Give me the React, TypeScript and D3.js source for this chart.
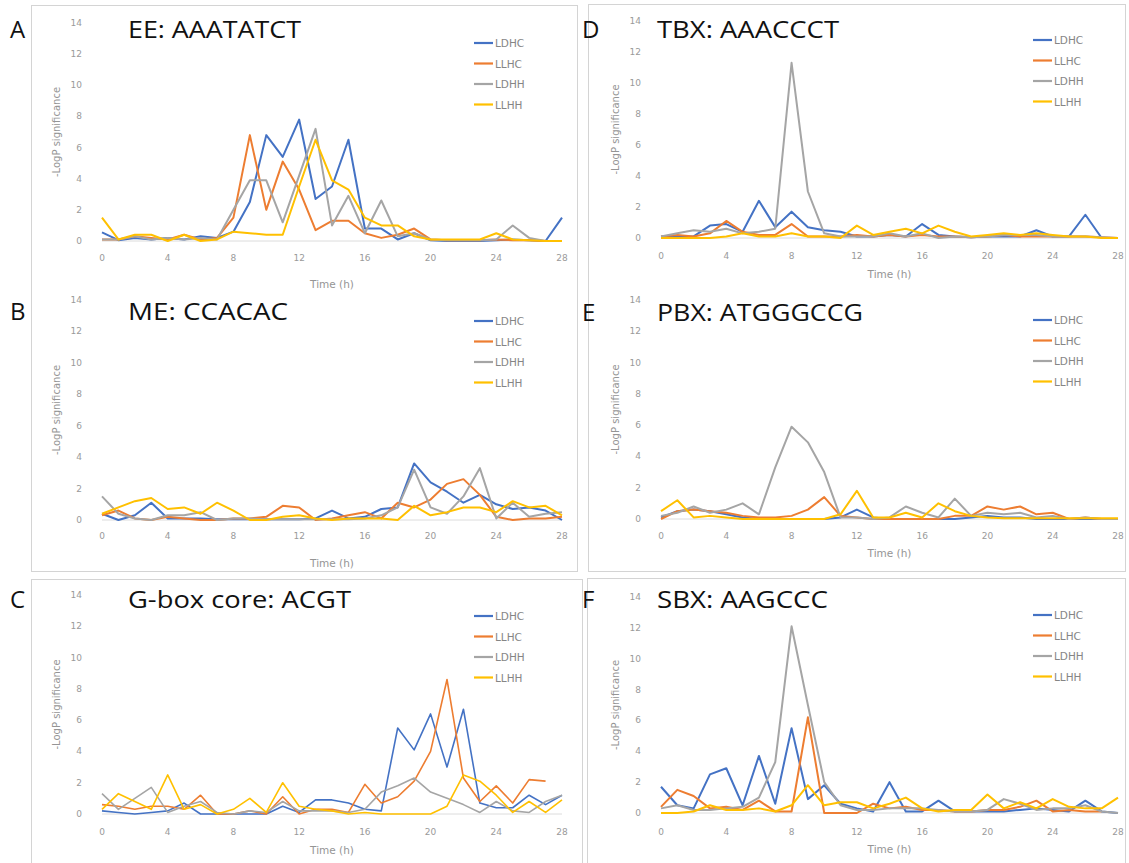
import React from "react";
import * as d3 from "d3";

// time points (h) and shared axis ticks
const hours = [0, 1, 2, 3, 4, 5, 6, 7, 8, 9, 10, 11, 12, 13, 14, 15, 16, 17, 18, 19, 20, 21, 22, 23, 24, 25, 26, 27, 28];
const xTicks = [0, 4, 8, 12, 16, 20, 24, 28];
const yTicks = [0, 2, 4, 6, 8, 10, 12, 14];
const seriesNames = ["LDHC", "LLHC", "LDHH", "LLHH"];
const seriesColors = ["#4472C4", "#ED7D31", "#A5A5A5", "#FFC000"];

type V = number | null;

// A - EE: AAATATCT
const eeLDHC: V[] = [0.55, 0.05, 0.2, 0.1, 0.2, 0.1, 0.3, 0.2, 0.6, 2.5, 6.8, 5.4, 7.8, 2.7, 3.5, 6.5, 0.8, 0.8, 0.1, 0.5, 0.05, 0, 0, 0, 0.05, 0.1, 0.05, 0, 1.5];
const eeLLHC: V[] = [0.1, 0.1, 0.3, 0.2, 0.1, 0.4, 0.1, 0.2, 1.5, 6.8, 2.0, 5.1, 3.3, 0.7, 1.3, 1.3, 0.5, 0.2, 0.4, 0.8, 0.1, 0.05, 0.05, 0.05, 0.1, 0.05, 0.05, 0, 0];
const eeLDHH: V[] = [0.1, 0.1, 0.3, 0.1, 0.2, 0.1, 0.2, 0.1, 2.0, 3.9, 3.9, 1.2, 4.2, 7.2, 1.0, 2.9, 0.5, 2.6, 0.3, 0.5, 0.1, 0.05, 0.05, 0.05, 0.1, 1.0, 0.2, 0, 0];
const eeLLHH: V[] = [1.5, 0.1, 0.4, 0.4, 0.0, 0.4, 0.0, 0.1, 0.6, 0.5, 0.4, 0.4, 3.5, 6.5, 3.9, 3.3, 1.5, 1.0, 1.0, 0.3, 0.1, 0.1, 0.1, 0.1, 0.5, 0.1, 0.05, 0, 0];

// B - ME: CCACAC
const meLDHC: V[] = [0.4, 0.0, 0.3, 1.1, 0.1, 0.1, 0.1, 0.05, 0.05, 0.05, 0.05, 0.05, 0.05, 0.1, 0.6, 0.1, 0.2, 0.7, 0.8, 3.6, 2.4, 1.8, 1.1, 1.6, 1.0, 0.7, 0.8, 0.6, 0.0];
const meLLHC: V[] = [0.3, 0.6, 0.1, 0.0, 0.2, 0.1, 0.0, 0.0, 0.1, 0.1, 0.2, 0.9, 0.8, 0.0, 0.1, 0.3, 0.5, 0.1, 1.1, 0.8, 1.3, 2.3, 2.6, 1.6, 0.2, 0.0, 0.1, 0.1, 0.2];
const meLDHH: V[] = [1.5, 0.4, 0.1, 0.0, 0.3, 0.3, 0.5, 0.0, 0.1, 0.1, 0.05, 0.05, 0.05, 0.05, 0.05, 0.05, 0.1, 0.3, 0.8, 3.2, 0.8, 0.4, 1.5, 3.3, 0.1, 1.1, 0.2, 0.4, 0.5];
const meLLHH: V[] = [0.4, 0.8, 1.2, 1.4, 0.7, 0.8, 0.4, 1.1, 0.6, 0.0, 0.0, 0.2, 0.3, 0.1, 0.0, 0.1, 0.1, 0.1, 0.0, 0.9, 0.3, 0.5, 0.8, 0.8, 0.5, 1.2, 0.8, 0.9, 0.3];

// C - G-box core: ACGT
const gboxLDHC: V[] = [0.2, 0.1, 0.0, 0.1, 0.2, 0.7, 0.0, 0.0, 0.0, 0.0, 0.0, 0.5, 0.1, 0.9, 0.9, 0.7, 0.3, 0.2, 5.5, 4.1, 6.4, 3.0, 6.7, 0.7, 0.4, 0.4, 1.2, 0.6, 1.2];
const gboxLLHC: V[] = [0.6, 0.5, 0.3, 0.5, 0.5, 0.3, 1.2, 0.0, 0.0, 0.2, 0.0, 1.1, 0.0, 0.3, 0.3, 0.1, 1.9, 0.7, 1.1, 2.1, 4.0, 8.6, 2.3, 0.8, 1.8, 0.7, 2.2, 2.1, null];
const gboxLDHH: V[] = [1.3, 0.3, 1.0, 1.7, 0.1, 0.5, 0.8, 0.1, 0.0, 0.2, 0.1, 0.8, 0.2, 0.2, 0.2, 0.1, 0.3, 1.4, 1.8, 2.3, 1.4, 1.0, 0.6, 0.1, 0.8, 0.2, 0.1, 0.8, 1.2];
const gboxLLHH: V[] = [0.3, 1.3, 0.8, 0.3, 2.5, 0.3, 0.6, 0.0, 0.3, 1.0, 0.1, 2.0, 0.5, 0.3, 0.2, 0.0, 0.1, 0.0, 0.0, 0.0, 0.0, 0.5, 2.5, 2.1, 1.2, 0.1, 0.8, 0.1, 0.9];

// D - TBX: AAACCCT
const tbxLDHC: V[] = [0.1, 0.1, 0.1, 0.8, 0.9, 0.4, 2.4, 0.7, 1.7, 0.7, 0.5, 0.4, 0.1, 0.1, 0.2, 0.1, 0.9, 0.2, 0.1, 0.05, 0.1, 0.1, 0.1, 0.5, 0.1, 0.1, 1.5, 0, null];
const tbxLLHC: V[] = [0.1, 0.2, 0.1, 0.3, 1.1, 0.4, 0.2, 0.2, 0.9, 0.1, 0.1, 0.1, 0.2, 0.1, 0.2, 0.1, 0.2, 0.1, 0.1, 0.05, 0.1, 0.2, 0.1, 0.1, 0.1, 0.1, 0.1, 0.05, 0];
const tbxLDHH: V[] = [0.1, 0.3, 0.5, 0.4, 0.6, 0.3, 0.4, 0.6, 11.3, 3.0, 0.3, 0.1, 0.1, 0.1, 0.3, 0.1, 0.3, 0.0, 0.1, 0.05, 0.1, 0.2, 0.2, 0.2, 0.1, 0.1, 0.1, 0.05, 0];
const tbxLLHH: V[] = [0, 0, 0, 0, 0.1, 0.3, 0.1, 0.1, 0.3, 0.1, 0.1, 0, 0.8, 0.2, 0.4, 0.6, 0.3, 0.8, 0.4, 0.1, 0.2, 0.3, 0.2, 0.3, 0.2, 0.1, 0.1, 0, 0];

// E - PBX: ATGGGCCG
const pbxLDHC: V[] = [0.1, 0.5, 0.6, 0.5, 0.3, 0.1, 0, 0, 0, 0, 0, 0.1, 0.6, 0.1, 0, 0, 0, 0, 0, 0.1, 0.2, 0.1, 0.1, 0, 0, 0, 0, 0, 0];
const pbxLLHC: V[] = [0.0, 0.5, 0.6, 0.5, 0.4, 0.2, 0.1, 0.1, 0.2, 0.6, 1.4, 0.2, 0.1, 0.0, 0.0, 0.0, 0.0, 0.0, 0.2, 0.2, 0.8, 0.6, 0.8, 0.3, 0.4, 0.0, 0.1, 0.0, 0.0];
const pbxLDHH: V[] = [0.2, 0.4, 0.8, 0.4, 0.6, 1.0, 0.3, 3.3, 5.9, 4.9, 3.0, 0.1, 0.1, 0.0, 0.1, 0.8, 0.4, 0.1, 1.3, 0.2, 0.4, 0.3, 0.4, 0.1, 0.2, 0.0, 0.1, 0.0, 0.0];
const pbxLLHH: V[] = [0.5, 1.2, 0.1, 0.2, 0.1, 0, 0, 0, 0, 0, 0, 0.3, 1.8, 0.1, 0.1, 0.4, 0.1, 1.0, 0.5, 0.2, 0.1, 0.05, 0.05, 0.05, 0.05, 0.05, 0.05, 0.05, 0.05];

// F - SBX: AAGCCC
const sbxLDHC: V[] = [1.7, 0.5, 0.3, 2.5, 2.9, 0.5, 3.7, 0.6, 5.5, 0.9, 1.8, 0.6, 0.3, 0.1, 2.0, 0.1, 0.1, 0.8, 0.1, 0.1, 0.1, 0.1, 0.2, 0.3, 0.2, 0.1, 0.8, 0.1, 0.0];
const sbxLLHC: V[] = [0.4, 1.5, 1.1, 0.3, 0.4, 0.2, 0.8, 0.1, 0.1, 6.2, 0.0, 0.0, 0.0, 0.6, 0.3, 0.4, 0.2, 0.2, 0.1, 0.1, 0.2, 0.2, 0.4, 0.8, 0.1, 0.2, 0.1, 0.1, null];
const sbxLDHH: V[] = [0.3, 0.5, 0.2, 0.2, 0.3, 0.4, 1.0, 3.3, 12.1, 7.0, 2.0, 0.5, 0.2, 0.2, 0.3, 0.3, 0.3, 0.2, 0.1, 0.1, 0.2, 0.9, 0.6, 0.2, 0.3, 0.3, 0.5, 0.1, 0.0];
const sbxLLHH: V[] = [0, 0, 0.1, 0.5, 0.2, 0.2, 0.3, 0.1, 0.5, 1.8, 0.5, 0.7, 0.7, 0.3, 0.6, 1.0, 0.3, 0.1, 0.2, 0.2, 1.2, 0.3, 0.7, 0.3, 0.9, 0.4, 0.3, 0.3, 1.0];

const leftCol = { x0: 102, x1: 562, letterX: 10, titleX: 128, legendX: 474, yTitleX: 56 };
const rightCol = { x0: 661, x1: 1118, letterX: 582, titleX: 657, legendX: 1033, yTitleX: 615 };

const panels = [
  { letter: "A", title: "EE: AAATATCT", titleW: 173, col: leftCol, y0: 241, y14: 23, base: 37.5, legendY: 43, tickOff: 17, timeOff: 43, sw: 2, series: [eeLDHC, eeLLHC, eeLDHH, eeLLHH] },
  { letter: "B", title: "ME: CCACAC", titleW: 160, col: leftCol, y0: 520, y14: 300, base: 320, legendY: 321, tickOff: 16, timeOff: 43, sw: 2, series: [meLDHC, meLLHC, meLDHH, meLLHH] },
  { letter: "C", title: "G-box core: ACGT", titleW: 223, col: leftCol, y0: 814, y14: 595, base: 608, legendY: 616, tickOff: 18, timeOff: 36, sw: 1.6, series: [gboxLDHC, gboxLLHC, gboxLDHH, gboxLLHH] },
  { letter: "D", title: "TBX: AAACCCT", titleW: 182, col: rightCol, y0: 238, y14: 21, base: 37.5, legendY: 40, tickOff: 18, timeOff: 36, sw: 2, series: [tbxLDHC, tbxLLHC, tbxLDHH, tbxLLHH] },
  { letter: "E", title: "PBX: ATGGGCCG", titleW: 206, col: rightCol, y0: 519, y14: 300, base: 321, legendY: 320, tickOff: 17, timeOff: 34, sw: 2, series: [pbxLDHC, pbxLLHC, pbxLDHH, pbxLLHH] },
  { letter: "F", title: "SBX: AAGCCC", titleW: 171, col: rightCol, y0: 813, y14: 597, base: 608, legendY: 615, tickOff: 19, timeOff: 36, sw: 2, series: [sbxLDHC, sbxLLHC, sbxLDHH, sbxLLHH] },
];

const small = "'DejaVu Sans', sans-serif";
const big = "'Open Sans', Lato, sans-serif";

function Panel({ p }: { p: any }) {
  const x = d3.scaleLinear().domain([0, 28]).range([p.col.x0, p.col.x1]);
  const y = d3.scaleLinear().domain([0, 14]).range([p.y0, p.y14]);
  const line = d3
    .line<V>()
    .defined((d) => d != null)
    .x((_, i) => x(hours[i]))
    .y((d) => y(d as number));

  return (
    <g>
      {/* baseline at 0 */}
      <line x1={x(0)} x2={x(28)} y1={y(0)} y2={y(0)} stroke="#dcdcdc" strokeWidth={1} />
      {yTicks.map((t) => (
        <text key={"y" + t} x={p.col.x0 - 20} y={y(t)} textAnchor="end" dominantBaseline="central"
          fontFamily={small} fontSize={9} fill="#9a9a9a">{t}</text>
      ))}
      {xTicks.map((t) => (
        <text key={"x" + t} x={x(t)} y={p.y0 + p.tickOff} textAnchor="middle" dominantBaseline="central"
          fontFamily={small} fontSize={9} fill="#9a9a9a">{t}</text>
      ))}
      <text x={(p.col.x0 + p.col.x1) / 2} y={p.y0 + p.timeOff} textAnchor="middle" dominantBaseline="central"
        fontFamily={small} fontSize={10.5} fill="#959595">Time (h)</text>
      <text transform={`translate(${p.col.yTitleX},${(p.y0 + p.y14) / 2}) rotate(-90)`} textAnchor="middle"
        dominantBaseline="central" fontFamily={small} fontSize={10} fill="#959595">-LogP significance</text>

      {p.series.map((s: V[], i: number) => (
        <path key={seriesNames[i]} d={line(s) || ""} fill="none" stroke={seriesColors[i]}
          strokeWidth={p.sw} strokeLinejoin="round" />
      ))}

      {seriesNames.map((name, i) => {
        const ly = p.legendY + i * 20.5;
        return (
          <g key={"lg" + name}>
            <line x1={p.col.legendX} x2={p.col.legendX + 19} y1={ly} y2={ly} stroke={seriesColors[i]} strokeWidth={2.2} />
            <text x={p.col.legendX + 21} y={ly} dominantBaseline="central" fontFamily={small} fontSize={10.5} fill="#858585">{name}</text>
          </g>
        );
      })}

      <text x={p.col.letterX} y={p.base} fontFamily={big} fontSize={24} fill="#111">{p.letter}</text>
      <text x={p.col.titleX} y={p.base} fontFamily={big} fontSize={23} fill="#111"
        textLength={p.titleW} lengthAdjust="spacingAndGlyphs">{p.title}</text>
    </g>
  );
}

export default function App() {
  return (
    <div style={{ position: "absolute", left: 0, top: 0, width: 1129, height: 863, background: "#fff" }}>
      <svg width={1129} height={863} style={{ display: "block" }}>
        <rect x={0} y={0} width={1129} height={863} fill="#fff" />
        {/* panel frames */}
        <rect x={31.5} y={5.5} width={546} height={566} fill="none" stroke="#d4d4d4" />
        <rect x={31.5} y={579.5} width={551} height={300} fill="none" stroke="#d4d4d4" />
        <rect x={588.5} y={4.5} width={537} height={567} fill="none" stroke="#d4d4d4" />
        <rect x={587.5} y={578.5} width={538} height={300} fill="none" stroke="#d4d4d4" />
        {panels.map((p) => (
          <Panel key={p.letter} p={p} />
        ))}
      </svg>
    </div>
  );
}
